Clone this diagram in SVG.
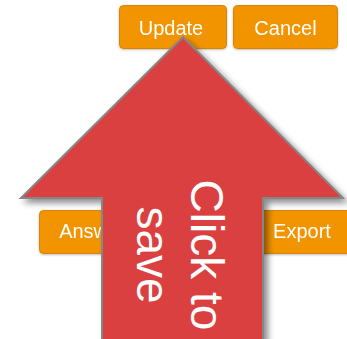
<svg xmlns="http://www.w3.org/2000/svg" width="347" height="339" viewBox="0 0 347 339">
<defs>
<style>
.btn{fill:#f29400;stroke:#d98400;stroke-width:1}
.btnlbl{fill:#ffffff;font-family:"Liberation Sans",Arial,sans-serif;font-size:20px;text-anchor:middle}
.arrow{fill:#db403f;stroke:#868686;stroke-width:2;stroke-linejoin:miter}
.arrowlbl{fill:#ffffff;font-family:"Liberation Sans",Arial,sans-serif;font-size:46px;text-anchor:middle}
</style>
<filter id="shadow" x="-20%" y="-20%" width="140%" height="140%">
<feDropShadow dx="4" dy="4" stdDeviation="3" flood-color="#000000" flood-opacity="0.45"/>
</filter>
<filter id="bshadow" x="-10%" y="-10%" width="120%" height="130%">
<feDropShadow dx="0" dy="1" stdDeviation="0.8" flood-color="#000000" flood-opacity="0.25"/>
</filter>
</defs>
<rect width="347" height="339" fill="#ffffff"/>
<g id="btn-update" filter="url(#bshadow)">
<rect class="btn" x="119.5" y="5.5" width="107" height="43" rx="4"/>
<text class="btnlbl" x="171" y="35">Update</text>
</g>
<g id="btn-cancel" filter="url(#bshadow)">
<rect class="btn" x="233.5" y="5.5" width="104" height="43" rx="4"/>
<text class="btnlbl" x="285.5" y="35">Cancel</text>
</g>
<g id="btn-answer" filter="url(#bshadow)">
<rect class="btn" x="39.5" y="210.5" width="110" height="43" rx="4"/>
<text class="btnlbl" x="92.5" y="238">Answer</text>
</g>
<g id="btn-export" filter="url(#bshadow)">
<rect class="btn" x="252.5" y="210.5" width="104" height="43" rx="4"/>
<text class="btnlbl" x="302" y="238">Export</text>
</g>
<g id="connectors"></g>
<g id="callout-arrow">
<polygon class="arrow" filter="url(#shadow)" points="183,37 343,198 263,198 263,350 102,350 102,198 21,198"/>
<text class="arrowlbl" transform="translate(191,255) rotate(90)"><tspan x="0" y="0">Click to</tspan><tspan x="0" y="54">save</tspan></text>
</g>
</svg>
